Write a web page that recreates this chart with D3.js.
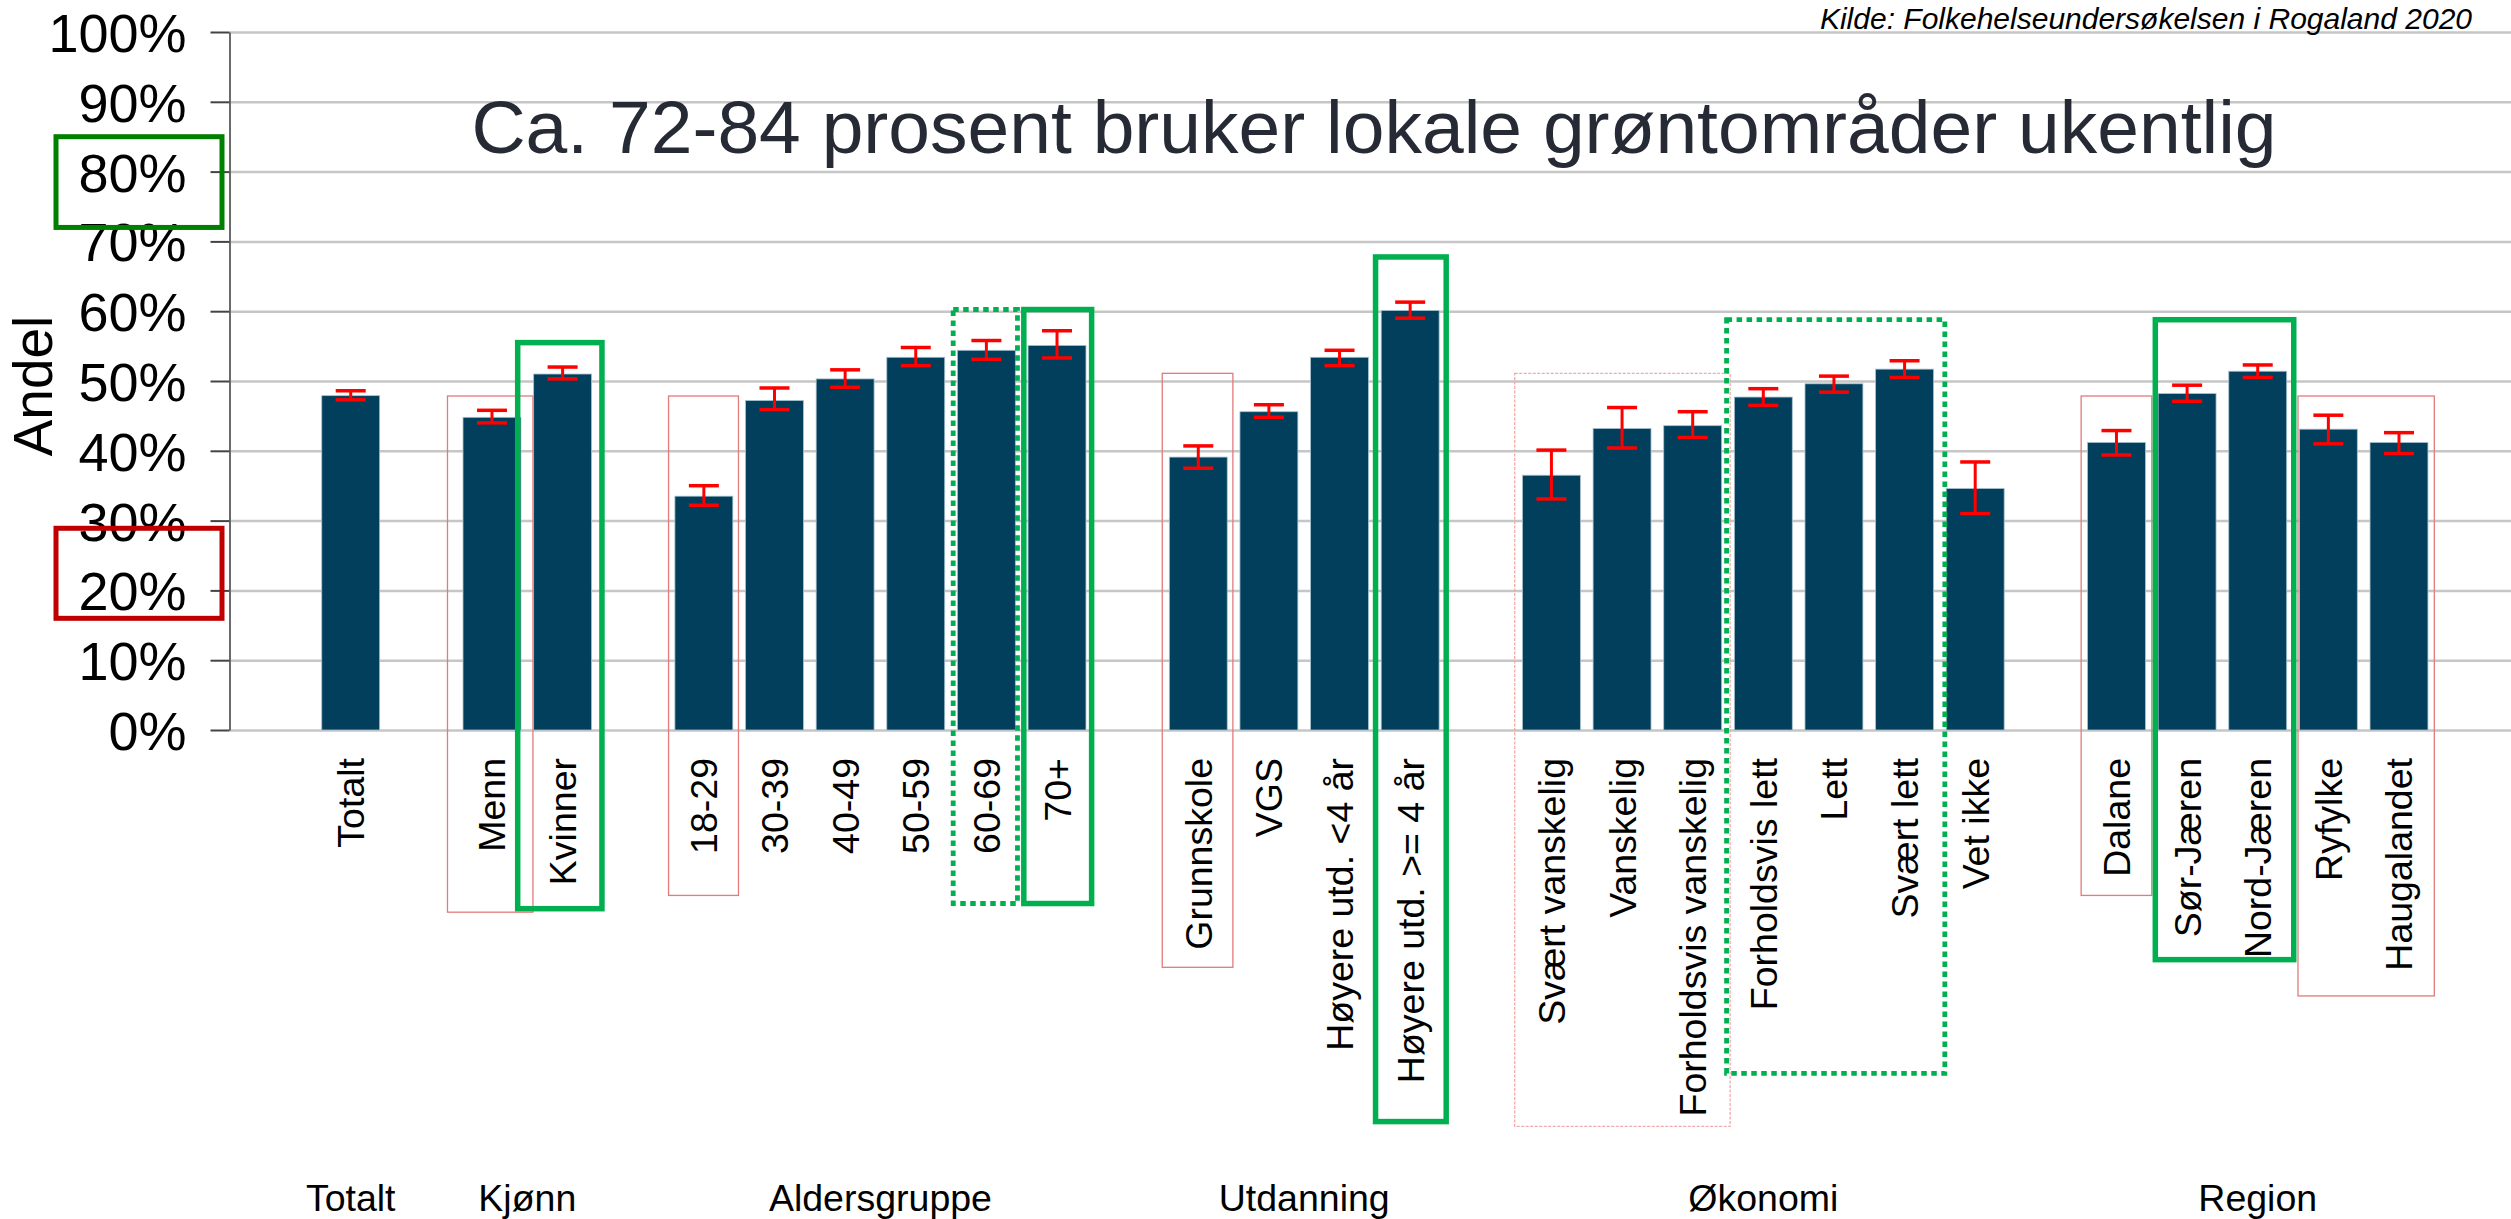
<!DOCTYPE html>
<html>
<head>
<meta charset="utf-8">
<script src="https://cdn.jsdelivr.net/npm/d3@7"></script>
<style>
  html, body { margin: 0; padding: 0; background: #ffffff; }
  svg { display: block; font-family: "Liberation Sans", Arial, Helvetica, sans-serif; }
</style>
</head>
<body>
<svg id="chart" width="2511" height="1219"></svg>
<script>
// ---------------- DATA ----------------
const categories = ["Totalt", "Menn", "Kvinner", "18-29", "30-39", "40-49", "50-59", "60-69", "70+",
  "Grunnskole", "VGS", "Høyere utd. <4 år", "Høyere utd. >= 4 år",
  "Svært vanskelig", "Vanskelig", "Forholdsvis vanskelig", "Forholdsvis lett", "Lett", "Svært lett", "Vet ikke",
  "Dalane", "Sør-Jæren", "Nord-Jæren", "Ryfylke", "Haugalandet"];
const categoryGroup = [0, 1, 1, 2, 2, 2, 2, 2, 2, 3, 3, 3, 3, 4, 4, 4, 4, 4, 4, 4, 5, 5, 5, 5, 5];
const groupNames = ["Totalt", "Kjønn", "Aldersgruppe", "Utdanning", "Økonomi", "Region"];
const values = [47.9, 44.8, 51.0, 33.5, 47.2, 50.3, 53.4, 54.4, 55.1,
  39.1, 45.6, 53.4, 60.1,
  36.5, 43.2, 43.6, 47.7, 49.6, 51.7, 34.6,
  41.2, 48.2, 51.4, 43.1, 41.2];
const ciLow = [47.3, 44.0, 50.3, 32.2, 45.9, 49.1, 52.2, 53.1, 53.3,
  37.5, 44.8, 52.2, 59.0,
  33.1, 40.4, 41.9, 46.5, 48.4, 50.5, 31.0,
  39.4, 47.1, 50.5, 41.0, 39.6];
const ciHigh = [48.6, 45.8, 52.0, 35.0, 49.0, 51.6, 54.8, 55.8, 57.2,
  40.7, 46.6, 54.4, 61.3,
  40.1, 46.2, 45.6, 48.9, 50.7, 52.9, 38.4,
  42.9, 49.4, 52.3, 45.1, 42.6];
const yTicks = [0, 10, 20, 30, 40, 50, 60, 70, 80, 90, 100];

const titleText = "Ca. 72-84 prosent bruker lokale grøntområder ukentlig";
const sourceText = "Kilde: Folkehelseundersøkelsen i Rogaland 2020";
const yLabel = "Andel";

// Highlight boxes in (slot position, value) coordinates
const annStart  = [1.87, 5.0, 11.99, 16.98, 25.0, 28.07, 2.864, 10.03, 15.01, 26.05, 9.03, 19.98];
const annEnd    = [3.08, 5.99, 12.99, 20.03, 26.0, 30.0, 4.057, 10.99, 16.01, 28.01, 9.94, 23.07];
const annTop    = [47.85, 47.85, 51.1, 51.1, 47.85, 47.85, 55.5, 60.24, 67.77, 58.78, 60.24, 58.78];
const annBottom = [-26.1, -23.7, -34.0, -56.8, -23.7, -38.1, -25.6, -24.86, -56.1, -32.9, -24.86, -49.2];
const annKind   = ["red", "red", "red", "redLight", "red", "red", "green", "green", "green", "green", "dotted", "dotted"];

// Y-axis label highlight boxes (value ranges)
const axisBoxTop    = [85.0, 28.9];
const axisBoxBottom = [72.0, 16.0];
const axisBoxColor  = ["#008000", "#c00000"];

// ---------------- LAYOUT ----------------
const svg = d3.select("#chart");
const W = 2511;
const axisX = 229.5;
const y = d3.scaleLinear().domain([0, 100]).range([730, 32]);

// slot domain with an empty slot between groups
const slotKeys = [];
categories.forEach((c, i) => {
  if (i > 0 && categoryGroup[i] !== categoryGroup[i - 1]) slotKeys.push("__gap" + i);
  slotKeys.push(c);
});
const x = d3.scaleBand().domain(slotKeys).range([315.4, 2434.3]).paddingInner(0.18).paddingOuter(0.09);
const slotOrigin = x(slotKeys[0]) - x.step() * x.paddingInner() / 2;
const u = d3.scaleLinear().domain([0, 1]).range([slotOrigin, slotOrigin + x.step()]);
const cx = c => x(c) + x.bandwidth() / 2;

// ---------------- GRIDLINES ----------------
svg.append("g")
  .attr("transform", `translate(${axisX},0)`)
  .call(d3.axisLeft(y).tickValues(yTicks).tickSize(-(W - axisX)).tickFormat(""))
  .call(g => g.select(".domain").remove())
  .call(g => g.selectAll("line").attr("stroke", "#c6c6c6").attr("stroke-width", 2.5));

// ---------------- Y AXIS ----------------
svg.append("g")
  .attr("transform", `translate(${axisX},0)`)
  .call(d3.axisLeft(y).tickValues(yTicks).tickSize(19).tickSizeOuter(0).tickPadding(24).tickFormat(d => d + "%"))
  .call(g => g.select(".domain").attr("stroke", "#6a6a6a").attr("stroke-width", 2))
  .call(g => g.selectAll(".tick line").attr("stroke", "#444").attr("stroke-width", 2))
  .call(g => g.selectAll(".tick text")
    .attr("font-size", 54).attr("fill", "#000")
    .attr("font-family", "'Liberation Sans', Arial, sans-serif")
    .attr("dy", "0.36em"));

svg.append("text")
  .attr("transform", `translate(52,386) rotate(-90)`)
  .attr("text-anchor", "middle")
  .attr("font-size", 55)
  .attr("fill", "#000")
  .text(yLabel);

// ---------------- BARS ----------------
svg.append("g").selectAll("rect")
  .data(categories)
  .join("rect")
  .attr("x", c => x(c))
  .attr("width", x.bandwidth())
  .attr("y", (c, i) => y(values[i]))
  .attr("height", (c, i) => y(0) - y(values[i]))
  .attr("fill", "#023f5c")
  .attr("stroke", "#a7c1cf")
  .attr("stroke-width", 0.8);

// ---------------- ERROR BARS ----------------
const eb = svg.append("g").attr("stroke", "#ff0000").attr("fill", "none");
const capHalf = 15;
eb.selectAll("line.v").data(categories).join("line").attr("class", "v")
  .attr("x1", c => cx(c)).attr("x2", c => cx(c))
  .attr("y1", (c, i) => y(ciHigh[i])).attr("y2", (c, i) => y(ciLow[i]))
  .attr("stroke-width", 3);
eb.selectAll("line.hi").data(categories).join("line").attr("class", "hi")
  .attr("x1", c => cx(c) - capHalf).attr("x2", c => cx(c) + capHalf)
  .attr("y1", (c, i) => y(ciHigh[i])).attr("y2", (c, i) => y(ciHigh[i]))
  .attr("stroke-width", 3.5);
eb.selectAll("line.lo").data(categories).join("line").attr("class", "lo")
  .attr("x1", c => cx(c) - capHalf).attr("x2", c => cx(c) + capHalf)
  .attr("y1", (c, i) => y(ciLow[i])).attr("y2", (c, i) => y(ciLow[i]))
  .attr("stroke-width", 3.5);

// ---------------- CATEGORY LABELS ----------------
svg.append("g")
  .attr("transform", `translate(0,${y(0)})`)
  .call(d3.axisBottom(x).tickValues(categories).tickSize(0))
  .call(g => g.select(".domain").remove())
  .call(g => g.selectAll(".tick text")
    .attr("font-size", 37.5)
    .attr("font-family", "'Liberation Sans', Arial, sans-serif")
    .attr("fill", "#000")
    .attr("transform", "rotate(-90)")
    .attr("text-anchor", "end")
    .attr("x", -28)
    .attr("y", 0)
    .attr("dy", "0.36em"));

// ---------------- GROUP LABELS ----------------
svg.append("g").selectAll("text")
  .data(groupNames)
  .join("text")
  .attr("x", (gname, gi) => {
    const members = categories.filter((c, i) => categoryGroup[i] === gi);
    return (cx(members[0]) + cx(members[members.length - 1])) / 2;
  })
  .attr("y", 1211)
  .attr("text-anchor", "middle")
  .attr("font-size", 37.5)
  .attr("fill", "#000")
  .text(d => d);

// ---------------- HIGHLIGHT BOXES ----------------
const annStyle = {
  red:      { stroke: "#e27b7b", width: 1.3, dash: null },
  redLight: { stroke: "#f2a9a9", width: 1.3, dash: "3,1.5" },
  green:    { stroke: "#00b050", width: 5.5, dash: null },
  dotted:   { stroke: "#00b050", width: 4.8, dash: "5.5,4.5" }
};
const order = annKind.map((k, i) => i).sort((a, b) => (annKind[a].startsWith("red") ? 0 : 1) - (annKind[b].startsWith("red") ? 0 : 1));
svg.append("g").selectAll("rect")
  .data(order)
  .join("rect")
  .attr("x", i => u(annStart[i]))
  .attr("width", i => u(annEnd[i]) - u(annStart[i]))
  .attr("y", i => y(annTop[i]))
  .attr("height", i => y(annBottom[i]) - y(annTop[i]))
  .attr("fill", "none")
  .attr("stroke", i => annStyle[annKind[i]].stroke)
  .attr("stroke-width", i => annStyle[annKind[i]].width)
  .attr("stroke-dasharray", i => annStyle[annKind[i]].dash);

svg.append("g").selectAll("rect")
  .data(axisBoxTop)
  .join("rect")
  .attr("x", 56)
  .attr("width", 166)
  .attr("y", d => y(d))
  .attr("height", (d, i) => y(axisBoxBottom[i]) - y(d))
  .attr("fill", "none")
  .attr("stroke", (d, i) => axisBoxColor[i])
  .attr("stroke-width", 5);

// ---------------- TITLE & SOURCE ----------------
svg.append("text")
  .attr("x", 1374)
  .attr("y", 153)
  .attr("text-anchor", "middle")
  .attr("font-size", 75)
  .attr("fill", "#262a35")
  .text(titleText);

svg.append("text")
  .attr("x", 2472)
  .attr("y", 29)
  .attr("text-anchor", "end")
  .attr("font-size", 30)
  .attr("font-style", "italic")
  .attr("fill", "#000")
  .text(sourceText);
</script>
</body>
</html>
